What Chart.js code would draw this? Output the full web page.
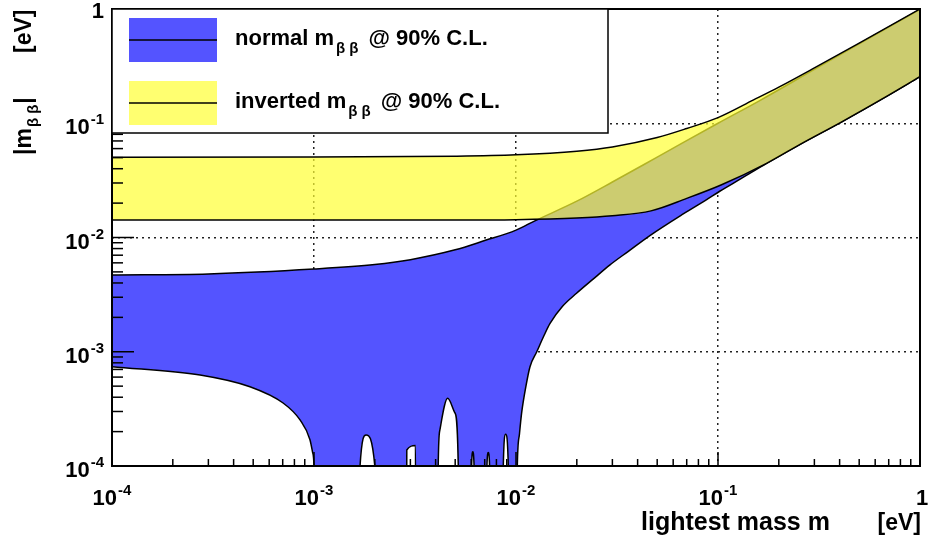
<!DOCTYPE html>
<html>
<head>
<meta charset="utf-8">
<script src="https://cdn.jsdelivr.net/npm/chart.js@4.4.0/dist/chart.umd.min.js"></script>
<style>
  html, body { margin: 0; padding: 0; background: #fff; }
</style>
</head>
<body>
<canvas id="mbb" width="930" height="539"></canvas>
<script>
// |m_bb| vs lightest neutrino mass, 90% C.L. bands, pairs are [m (eV), |m_bb| (eV)]
// 1e-5 = cancellation (below the axis, clipped)
var normalUpper = [
    [1e-4, 0.0047], [3e-4, 0.0048], [1e-3, 0.0053], [2e-3, 0.0058], [3e-3, 0.0064],
    [5e-3, 0.0078], [7e-3, 0.0094], [1e-2, 0.0116], [1.24e-2, 0.0140], [2e-2, 0.0208],
    [3e-2, 0.0306], [5e-2, 0.0505], [0.1, 0.100], [0.161, 0.158], [0.3, 0.296],
    [0.5, 0.495], [1, 0.99]
];
var normalLower = [
    [1e-4, 7.4e-4], [2.73e-4, 6.26e-4], [4.82e-4, 4.94e-4], [7.03e-4, 3.56e-4], [8.53e-4, 2.53e-4],
    [9.55e-4, 1.7e-4], [9.83e-4, 1.33e-4], [1.0e-3, 1.0e-4], [1.02e-3, 1e-5],
    [1.68e-3, 1e-5], [1.69e-3, 1e-4], [1.81e-3, 1.87e-4], [2.0e-3, 1e-4], [2.01e-3, 1e-5],
    [2.87e-3, 1e-5], [2.88e-3, 1.38e-4], [3.18e-3, 1.51e-4], [3.19e-3, 1e-5],
    [4.1e-3, 1e-5], [4.12e-3, 1e-4], [4.2e-3, 2.07e-4], [4.59e-3, 3.91e-4], [4.99e-3, 2.91e-4], [5.18e-3, 1e-4], [5.2e-3, 1e-5],
    [6.0e-3, 1e-5], [6.03e-3, 1e-4], [6.11e-3, 1.33e-4], [6.2e-3, 1e-4], [6.22e-3, 1e-5],
    [7.15e-3, 1e-5], [7.18e-3, 1e-4], [7.29e-3, 1.31e-4], [7.4e-3, 1e-4], [7.43e-3, 1e-5],
    [8.6e-3, 1e-5], [8.65e-3, 1e-4], [8.89e-3, 1.9e-4], [9.16e-3, 1e-4], [9.2e-3, 1e-5],
    [1.0e-2, 1e-5], [1.015e-2, 1e-4], [1.04e-2, 1.9e-4], [1.066e-2, 2.9e-4], [1.12e-2, 5.0e-4],
    [1.173e-2, 7.4e-4], [1.267e-2, 1.0e-3], [1.38e-2, 1.4e-3], [1.474e-2, 1.77e-3], [1.7e-2, 2.5e-3],
    [1.994e-2, 3.25e-3], [2.4e-2, 4.3e-3], [2.92e-2, 5.76e-3], [3.6e-2, 7.57e-3], [4.6e-2, 1.04e-2],
    [6.73e-2, 1.61e-2], [8.79e-2, 2.15e-2], [0.102, 2.54e-2], [0.13, 3.27e-2],
    [0.174, 4.46e-2], [0.255, 6.54e-2], [0.41, 0.103], [0.66, 0.166], [1, 0.256]
];
var invertedUpper = [
    [1e-4, 0.0505], [1e-3, 0.0506], [5e-3, 0.0515], [1e-2, 0.053], [2e-2, 0.057],
    [3e-2, 0.062], [5e-2, 0.075], [7e-2, 0.090], [0.1, 0.112], [0.15, 0.160],
    [0.2, 0.207], [0.3, 0.305], [0.5, 0.503], [1, 1.0]
];
var invertedLower = [
    [1e-4, 0.0142], [1e-3, 0.0142], [5e-3, 0.0142], [1e-2, 0.0143], [2e-2, 0.0148],
    [3e-2, 0.0155], [4.66e-2, 0.0171], [7e-2, 0.022], [0.1035, 0.0288], [0.174, 0.0446],
    [0.255, 0.0654], [0.41, 0.103], [0.66, 0.166], [1, 0.256]
];
var xTickExp = [-4, -3, -2, -1, 0];
var yTickExp = [-4, -3, -2, -1, 0];
var legendNames = ['normal m', 'inverted m'];
var legendSub = '\u03b2 \u03b2';
var legendTail = '@ 90% C.L.';

/////////////////////////////////////////////////////////////////////////////////////////

var FONT = '"Liberation Sans", Arial, Helvetica, sans-serif';
var BLUE = 'rgb(84, 84, 255)';
var YELLOW = 'rgba(255, 255, 0, 0.56)';
var VEIL = 'rgba(255, 255, 255, 0.32)';   // lightens the blue under the yellow band
var canvas = document.getElementById('mbb');
var ctx = canvas.getContext('2d');

function pts(list) {
    return list.map(function (p) { return {x: p[0], y: p[1]}; });
}

function drawPower(g, e, x, y, align) {
    var base = e === 0 ? '1' : '10';
    var sup = e === 0 ? '' : String(e);
    g.textBaseline = 'alphabetic';
    g.textAlign = 'left';
    g.font = 'bold 22px ' + FONT;
    var w1 = g.measureText(base).width;
    g.font = 'bold 15px ' + FONT;
    var w2 = sup ? g.measureText(sup).width + 1 : 0;
    var x0 = align === 'right' ? x - w1 - w2 : x - (w1 + w2) / 2;
    g.font = 'bold 22px ' + FONT;
    g.fillText(base, x0, y);
    if (sup) {
        g.font = 'bold 15px ' + FONT;
        g.fillText(sup, x0 + w1 + 1, y - 10);
    }
}

function seg(g, x1, y1, x2, y2) {
    g.beginPath(); g.moveTo(x1, y1); g.lineTo(x2, y2); g.stroke();
}

var rootFrame = {
    id: 'rootFrame',
    afterDraw: function (chart) {
        var g = chart.ctx, a = chart.chartArea;
        var xs = chart.scales.x, ys = chart.scales.y;
        g.save();

        // inward ticks
        g.strokeStyle = '#000';
        g.lineWidth = 1.5;
        xTickExp.forEach(function (e) {
            for (var k = 1; k <= 9; k++) {
                var v = k * Math.pow(10, e);
                if (v > 1.0001) break;
                var px = xs.getPixelForValue(v);
                seg(g, px, a.bottom, px, a.bottom - (k === 1 ? 14 : 7));
            }
        });
        yTickExp.forEach(function (e) {
            for (var k = 1; k <= 9; k++) {
                var v = k * Math.pow(10, e);
                if (v > 1.0001) break;
                var py = ys.getPixelForValue(v);
                seg(g, a.left, py, a.left + (k === 1 ? 22 : 11), py);
            }
        });

        // frame
        g.lineWidth = 2;
        g.strokeRect(a.left, a.top, a.right - a.left, a.bottom - a.top);

        // legend
        var lx = a.left, ly = a.top, lw = 496, lh = 124;
        g.fillStyle = '#fff';
        g.fillRect(lx, ly, lw, lh);
        g.lineWidth = 1.5;
        g.strokeRect(lx, ly, lw, lh);
        [BLUE, YELLOW].forEach(function (col, i) {
            var sy = ly + 9 + i * 63;
            g.fillStyle = col;
            g.fillRect(lx + 17, sy, 88, 44);
            g.strokeStyle = '#000';
            g.lineWidth = 1.5;
            seg(g, lx + 17, sy + 22, lx + 105, sy + 22);

            g.fillStyle = '#000';
            g.textAlign = 'left';
            g.textBaseline = 'alphabetic';
            var tx = lx + 123, ty = sy + 27;
            g.font = 'bold 22px ' + FONT;
            g.fillText(legendNames[i], tx, ty);
            tx += g.measureText(legendNames[i]).width + 2;
            g.font = 'bold 15px ' + FONT;
            g.fillText(legendSub, tx, ty + 8);
            tx += g.measureText(legendSub).width + 10;
            g.font = 'bold 22px ' + FONT;
            g.fillText(legendTail, tx, ty);
        });

        // tick labels
        g.fillStyle = '#000';
        yTickExp.forEach(function (e) {
            var py = ys.getPixelForValue(Math.pow(10, e));
            drawPower(g, e, a.left - 8, py + (e === 0 ? 9 : 11), 'right');
        });
        xTickExp.forEach(function (e) {
            var px = xs.getPixelForValue(Math.pow(10, e));
            drawPower(g, e, px + (e === 0 ? 2 : 0), a.bottom + 39, 'center');
        });

        // axis titles
        g.font = 'bold 25px ' + FONT;
        g.textAlign = 'left';
        g.fillText('lightest mass m', 641, 530);
        g.textAlign = 'right';
        g.font = 'bold 23px ' + FONT;
        g.fillText('[eV]', a.right + 1, 530);

        g.translate(31, 155);
        g.rotate(-Math.PI / 2);
        g.textAlign = 'left';
        g.font = 'bold 23px ' + FONT;
        g.fillText('|m', 0, 0);
        var w = g.measureText('|m').width + 1;
        g.font = 'bold 15px ' + FONT;
        g.fillText(legendSub, w, 7);
        w += g.measureText(legendSub).width + 1;
        g.font = 'bold 23px ' + FONT;
        g.fillText('|', w, 0);
        g.fillText('[eV]', 102, 0);
        g.restore();
    }
};

function line(list, extra) {
    var d = {
        data: pts(list),
        borderColor: '#000',
        borderWidth: 1.5,
        pointRadius: 0,
        fill: false,
        cubicInterpolationMode: 'monotone'
    };
    for (var k in extra) d[k] = extra[k];
    return d;
}

var chart = new Chart(ctx, {
    type: 'line',
    data: {
        datasets: [
            line(normalUpper, {label: 'normal upper', backgroundColor: BLUE, fill: 1, order: 5}),
            line(normalLower, {label: 'normal lower', order: 4}),
            line(invertedUpper, {label: 'inverted upper', backgroundColor: YELLOW, fill: 3, order: 2}),
            line(invertedLower, {label: 'inverted lower', order: 1}),
            line(invertedUpper, {label: 'inverted veil', backgroundColor: VEIL, borderWidth: 0, fill: 3, order: 3})
        ]
    },
    options: {
        responsive: false,
        animation: false,
        layout: {padding: {left: 112, right: 10, top: 9, bottom: 73}},
        plugins: {legend: {display: false}, tooltip: {enabled: false}},
        scales: {
            x: {
                type: 'logarithmic', min: 1e-4, max: 1, z: 1,
                afterBuildTicks: function (s) { s.ticks = xTickExp.map(function (e) { return {value: Math.pow(10, e)}; }); },
                ticks: {display: false},
                grid: {drawTicks: false, color: '#222', lineWidth: 1.5},
                border: {display: false, dash: [2, 4]}
            },
            y: {
                type: 'logarithmic', min: 1e-4, max: 1, z: 1,
                afterBuildTicks: function (s) { s.ticks = yTickExp.map(function (e) { return {value: Math.pow(10, e)}; }); },
                ticks: {display: false},
                grid: {drawTicks: false, color: '#222', lineWidth: 1.5},
                border: {display: false, dash: [2, 4]}
            }
        }
    },
    plugins: [rootFrame]
});
</script>
</body>
</html>
